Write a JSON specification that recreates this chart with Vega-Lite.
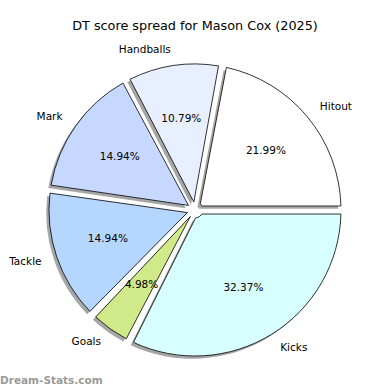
{
  "$schema": "https://vega.github.io/schema/vega-lite/v6.json",
  "width": 390,
  "height": 360,
  "autosize": "none",
  "padding": {"top": 30, "left": 0, "right": 0, "bottom": 0},
  "background": "white",
  "config": {"view": {"stroke": null}, "font": "DejaVu Sans"},
  "title": {"text": "DT score spread for Mason Cox (2025)", "font": "DejaVu Sans", "fontSize": 12.8, "fontWeight": "normal", "color": "#000000", "offset": -2.5},
  "data": {"values": [
    {"category": "Hitout", "share": 0.2199, "slice": 1},
    {"category": "Handballs", "share": 0.1079, "slice": 2},
    {"category": "Mark", "share": 0.1494, "slice": 3},
    {"category": "Tackle", "share": 0.1494, "slice": 4},
    {"category": "Goals", "share": 0.0498, "slice": 5},
    {"category": "Kicks", "share": 0.3237, "slice": 6}
  ]},
  "layer": [
    {
      "mark": {"type": "arc", "radius": 146, "innerRadius": 8, "padAngle": 0.055, "fill": "#4d4d4d", "fillOpacity": 0.5, "stroke": null, "xOffset": -2.8, "yOffset": 2.8},
      "encoding": {
        "theta": {"field": "share", "type": "quantitative", "stack": true, "scale": {"range": [1.5708, -4.7124]}},
        "detail": {"field": "category"},
        "order": {"field": "slice", "type": "quantitative"}
      }
    },
    {
      "mark": {"type": "arc", "radius": 146, "innerRadius": 8, "padAngle": 0.055, "stroke": "#000000", "strokeWidth": 0.8, "opacity": 1},
      "encoding": {
        "theta": {"field": "share", "type": "quantitative", "stack": true},
        "color": {"field": "category", "type": "nominal", "scale": {"domain": ["Hitout", "Handballs", "Mark", "Tackle", "Goals", "Kicks"], "range": ["#ffffff", "#e8f0ff", "#c6d8ff", "#b5d6ff", "#d0ea8a", "#d8ffff"]}, "legend": null},
        "order": {"field": "slice", "type": "quantitative"}
      }
    },
    {
      "mark": {"type": "text", "radius": 92, "font": "DejaVu Sans", "fontSize": 10.5, "align": "center", "baseline": "middle", "color": "#000000"},
      "encoding": {
        "theta": {"field": "share", "type": "quantitative", "stack": true},
        "detail": {"field": "category"},
        "order": {"field": "slice", "type": "quantitative"},
        "text": {"field": "share", "type": "quantitative", "format": ".2%"}
      }
    },
    {
      "mark": {"type": "text", "radius": 162, "font": "DejaVu Sans", "fontSize": 10.5, "align": "left", "baseline": "middle", "color": "#000000"},
      "encoding": {
        "theta": {"field": "share", "type": "quantitative", "stack": true},
        "detail": {"field": "category"},
        "order": {"field": "slice", "type": "quantitative"},
        "text": {"condition": {"test": "datum.category === 'Hitout' || datum.category === 'Kicks'", "field": "category"}, "value": ""}
      }
    },
    {
      "mark": {"type": "text", "radius": 162, "font": "DejaVu Sans", "fontSize": 10.5, "align": "right", "baseline": "middle", "color": "#000000"},
      "encoding": {
        "theta": {"field": "share", "type": "quantitative", "stack": true},
        "detail": {"field": "category"},
        "order": {"field": "slice", "type": "quantitative"},
        "text": {"condition": {"test": "datum.category !== 'Hitout' && datum.category !== 'Kicks'", "field": "category"}, "value": ""}
      }
    },
    {
      "data": {"values": [{"mark": "Dream-Stats.com"}]},
      "mark": {"type": "text", "font": "DejaVu Sans", "fontSize": 10.5, "fontWeight": "bold", "color": "#9a9a9a", "align": "left", "baseline": "alphabetic"},
      "encoding": {
        "x": {"value": 0},
        "y": {"value": 353.5},
        "text": {"field": "mark"}
      }
    }
  ],
  "resolve": {"scale": {"theta": "shared", "color": "shared"}}
}
